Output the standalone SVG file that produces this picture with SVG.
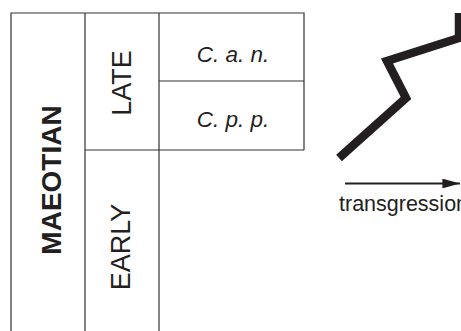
<svg xmlns="http://www.w3.org/2000/svg" width="461" height="331" viewBox="0 0 461 331">
<style>
.grid{stroke:#333;stroke-width:1.2;fill:none}
.t{font-family:"Liberation Sans",Arial,sans-serif;fill:#231f20}
.it{font-style:italic;font-size:22.5px}
.rot{font-size:27px}
.thick{stroke:#231f20;stroke-width:8.5;fill:none;stroke-linejoin:miter;stroke-linecap:butt}
</style>
<defs>
<marker id="ah" viewBox="0 0 18 10" refX="18" refY="5" markerWidth="8" markerHeight="4.5" orient="auto" markerUnits="strokeWidth">
<path d="M0,0 L18,5 L0,10 z" fill="#231f20"/>
</marker>
</defs>
<g id="table">
<path class="grid" d="M11,331 V13 H304 V150 M85,13 V331 M159,13 V331 M159,81 H304 M85,150 H304"/>
</g>
<g id="maeotian"><text class="t" font-weight="bold" font-size="28" text-anchor="middle" transform="translate(61,180) rotate(-90)">MAEOTIAN</text></g>
<g id="late"><text class="t rot" text-anchor="middle" transform="translate(131,83) rotate(-90)">LATE</text></g>
<g id="early"><text class="t rot" text-anchor="middle" transform="translate(130,247) rotate(-90)">EARLY</text></g>
<g id="can"><text class="t it" x="233" y="62" text-anchor="middle">C. a. n.</text></g>
<g id="cpp"><text class="t it" x="233" y="127" text-anchor="middle">C. p. p.</text></g>
<g id="connectors">
<polyline class="thick" points="339,158 406,98 387,61 459,38 459,13"/>
<line x1="345" y1="183.5" x2="460" y2="183.5" stroke="#231f20" stroke-width="2.2" marker-end="url(#ah)"/>
</g>
<g id="label"><text class="t" x="339" y="211" font-size="21.5">transgression</text></g>
</svg>
